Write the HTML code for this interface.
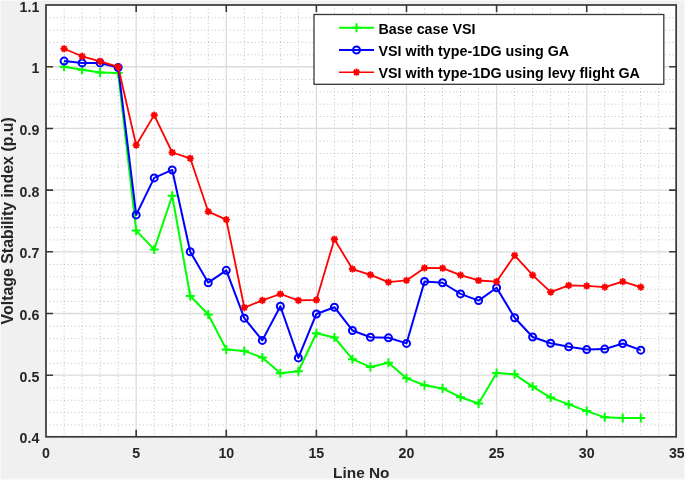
<!DOCTYPE html>
<html><head><meta charset="utf-8"><title>Voltage Stability index</title>
<style>html,body{margin:0;padding:0;background:#f0f0f0;}body{width:685px;height:480px;overflow:hidden;}svg{display:block;}</style>
</head><body>
<svg width="685" height="480" viewBox="0 0 685 480">
<rect x="0" y="0" width="685" height="480" fill="#f0f0f0"/>
<rect x="46.0" y="5.0" width="630.15" height="431.8" fill="#ffffff"/>
<path d="M64.09 5.00V436.80M82.11 5.00V436.80M100.13 5.00V436.80M118.16 5.00V436.80M154.20 5.00V436.80M172.22 5.00V436.80M190.24 5.00V436.80M208.26 5.00V436.80M244.31 5.00V436.80M262.33 5.00V436.80M280.35 5.00V436.80M298.37 5.00V436.80M334.42 5.00V436.80M352.44 5.00V436.80M370.46 5.00V436.80M388.48 5.00V436.80M424.52 5.00V436.80M442.55 5.00V436.80M460.57 5.00V436.80M478.59 5.00V436.80M514.63 5.00V436.80M532.65 5.00V436.80M550.67 5.00V436.80M568.70 5.00V436.80M604.74 5.00V436.80M622.76 5.00V436.80M640.78 5.00V436.80M658.80 5.00V436.80M46.00 424.94H676.15M46.00 412.60H676.15M46.00 400.26H676.15M46.00 387.92H676.15M46.00 363.25H676.15M46.00 350.91H676.15M46.00 338.57H676.15M46.00 326.24H676.15M46.00 301.56H676.15M46.00 289.22H676.15M46.00 276.88H676.15M46.00 264.55H676.15M46.00 239.87H676.15M46.00 227.53H676.15M46.00 215.19H676.15M46.00 202.86H676.15M46.00 178.18H676.15M46.00 165.84H676.15M46.00 153.51H676.15M46.00 141.17H676.15M46.00 116.49H676.15M46.00 104.15H676.15M46.00 91.82H676.15M46.00 79.48H676.15M46.00 54.80H676.15M46.00 42.46H676.15M46.00 30.13H676.15M46.00 17.79H676.15" stroke="#bfbfbf" stroke-width="1" stroke-dasharray="1 2.6" fill="none"/>
<path d="M136.18 5.00V436.80M226.29 5.00V436.80M316.39 5.00V436.80M406.50 5.00V436.80M496.61 5.00V436.80M586.72 5.00V436.80M46.00 375.19H676.15M46.00 313.50H676.15M46.00 251.81H676.15M46.00 190.12H676.15M46.00 128.43H676.15M46.00 66.74H676.15" stroke="#dcdcdc" stroke-width="1.3" fill="none"/>
<polyline points="64.09,66.64 82.11,69.72 100.13,72.50 118.16,72.99 136.18,230.61 154.20,249.41 172.22,195.78 190.24,295.95 208.26,314.57 226.29,349.40 244.31,350.88 262.33,357.60 280.35,373.32 298.37,371.28 316.39,333.25 334.42,337.50 352.44,359.20 370.46,367.09 388.48,362.71 406.50,378.19 424.52,385.21 442.55,388.42 460.57,397.23 478.59,403.52 496.61,373.07 514.63,374.30 532.65,386.57 550.67,397.60 568.70,404.38 586.72,411.10 604.74,417.33 622.76,417.88 640.78,417.88" stroke="#00ff00" stroke-width="2" fill="none" stroke-linejoin="round"/>
<path d="M59.59 66.64h9M64.09 62.14v9M77.61 69.72h9M82.11 65.22v9M95.63 72.50h9M100.13 68.00v9M113.66 72.99h9M118.16 68.49v9M131.68 230.61h9M136.18 226.11v9M149.70 249.41h9M154.20 244.91v9M167.72 195.78h9M172.22 191.28v9M185.74 295.95h9M190.24 291.45v9M203.76 314.57h9M208.26 310.07v9M221.79 349.40h9M226.29 344.90v9M239.81 350.88h9M244.31 346.38v9M257.83 357.60h9M262.33 353.10v9M275.85 373.32h9M280.35 368.82v9M293.87 371.28h9M298.37 366.78v9M311.89 333.25h9M316.39 328.75v9M329.92 337.50h9M334.42 333.00v9M347.94 359.20h9M352.44 354.70v9M365.96 367.09h9M370.46 362.59v9M383.98 362.71h9M388.48 358.21v9M402.00 378.19h9M406.50 373.69v9M420.02 385.21h9M424.52 380.71v9M438.05 388.42h9M442.55 383.92v9M456.07 397.23h9M460.57 392.73v9M474.09 403.52h9M478.59 399.02v9M492.11 373.07h9M496.61 368.57v9M510.13 374.30h9M514.63 369.80v9M528.15 386.57h9M532.65 382.07v9M546.17 397.60h9M550.67 393.10v9M564.20 404.38h9M568.70 399.88v9M582.22 411.10h9M586.72 406.60v9M600.24 417.33h9M604.74 412.83v9M618.26 417.88h9M622.76 413.38v9M636.28 417.88h9M640.78 413.38v9" stroke="#00ff00" stroke-width="2" fill="none"/>
<polyline points="64.09,61.09 82.11,62.94 100.13,62.94 118.16,67.51 136.18,214.89 154.20,177.91 172.22,169.96 190.24,251.76 208.26,282.70 226.29,270.37 244.31,318.15 262.33,340.40 280.35,306.25 298.37,357.91 316.39,313.95 334.42,307.23 352.44,330.47 370.46,337.25 388.48,337.81 406.50,343.42 424.52,281.41 442.55,282.76 460.57,293.92 478.59,300.58 496.61,287.76 514.63,317.78 532.65,337.01 550.67,343.30 568.70,346.81 586.72,349.58 604.74,349.09 622.76,343.54 640.78,350.14" stroke="#0000ff" stroke-width="2" fill="none" stroke-linejoin="round"/>
<circle cx="64.09" cy="61.09" r="3.5" stroke="#0000ff" stroke-width="2" fill="none"/>
<circle cx="82.11" cy="62.94" r="3.5" stroke="#0000ff" stroke-width="2" fill="none"/>
<circle cx="100.13" cy="62.94" r="3.5" stroke="#0000ff" stroke-width="2" fill="none"/>
<circle cx="118.16" cy="67.51" r="3.5" stroke="#0000ff" stroke-width="2" fill="none"/>
<circle cx="136.18" cy="214.89" r="3.5" stroke="#0000ff" stroke-width="2" fill="none"/>
<circle cx="154.20" cy="177.91" r="3.5" stroke="#0000ff" stroke-width="2" fill="none"/>
<circle cx="172.22" cy="169.96" r="3.5" stroke="#0000ff" stroke-width="2" fill="none"/>
<circle cx="190.24" cy="251.76" r="3.5" stroke="#0000ff" stroke-width="2" fill="none"/>
<circle cx="208.26" cy="282.70" r="3.5" stroke="#0000ff" stroke-width="2" fill="none"/>
<circle cx="226.29" cy="270.37" r="3.5" stroke="#0000ff" stroke-width="2" fill="none"/>
<circle cx="244.31" cy="318.15" r="3.5" stroke="#0000ff" stroke-width="2" fill="none"/>
<circle cx="262.33" cy="340.40" r="3.5" stroke="#0000ff" stroke-width="2" fill="none"/>
<circle cx="280.35" cy="306.25" r="3.5" stroke="#0000ff" stroke-width="2" fill="none"/>
<circle cx="298.37" cy="357.91" r="3.5" stroke="#0000ff" stroke-width="2" fill="none"/>
<circle cx="316.39" cy="313.95" r="3.5" stroke="#0000ff" stroke-width="2" fill="none"/>
<circle cx="334.42" cy="307.23" r="3.5" stroke="#0000ff" stroke-width="2" fill="none"/>
<circle cx="352.44" cy="330.47" r="3.5" stroke="#0000ff" stroke-width="2" fill="none"/>
<circle cx="370.46" cy="337.25" r="3.5" stroke="#0000ff" stroke-width="2" fill="none"/>
<circle cx="388.48" cy="337.81" r="3.5" stroke="#0000ff" stroke-width="2" fill="none"/>
<circle cx="406.50" cy="343.42" r="3.5" stroke="#0000ff" stroke-width="2" fill="none"/>
<circle cx="424.52" cy="281.41" r="3.5" stroke="#0000ff" stroke-width="2" fill="none"/>
<circle cx="442.55" cy="282.76" r="3.5" stroke="#0000ff" stroke-width="2" fill="none"/>
<circle cx="460.57" cy="293.92" r="3.5" stroke="#0000ff" stroke-width="2" fill="none"/>
<circle cx="478.59" cy="300.58" r="3.5" stroke="#0000ff" stroke-width="2" fill="none"/>
<circle cx="496.61" cy="287.76" r="3.5" stroke="#0000ff" stroke-width="2" fill="none"/>
<circle cx="514.63" cy="317.78" r="3.5" stroke="#0000ff" stroke-width="2" fill="none"/>
<circle cx="532.65" cy="337.01" r="3.5" stroke="#0000ff" stroke-width="2" fill="none"/>
<circle cx="550.67" cy="343.30" r="3.5" stroke="#0000ff" stroke-width="2" fill="none"/>
<circle cx="568.70" cy="346.81" r="3.5" stroke="#0000ff" stroke-width="2" fill="none"/>
<circle cx="586.72" cy="349.58" r="3.5" stroke="#0000ff" stroke-width="2" fill="none"/>
<circle cx="604.74" cy="349.09" r="3.5" stroke="#0000ff" stroke-width="2" fill="none"/>
<circle cx="622.76" cy="343.54" r="3.5" stroke="#0000ff" stroke-width="2" fill="none"/>
<circle cx="640.78" cy="350.14" r="3.5" stroke="#0000ff" stroke-width="2" fill="none"/>
<polyline points="64.09,48.77 82.11,56.29 100.13,61.28 118.16,66.95 136.18,145.18 154.20,115.16 172.22,152.51 190.24,158.31 208.26,211.69 226.29,219.58 244.31,307.54 262.33,300.39 280.35,293.98 298.37,300.39 316.39,299.96 334.42,239.24 352.44,269.02 370.46,274.81 388.48,282.08 406.50,280.42 424.52,267.91 442.55,268.21 460.57,275.18 478.59,280.48 496.61,281.59 514.63,255.39 532.65,275.18 550.67,292.07 568.70,285.41 586.72,285.97 604.74,287.08 622.76,281.59 640.78,287.08" stroke="#ff0000" stroke-width="1.8" fill="none" stroke-linejoin="round"/>
<path d="M60.49 48.77h7.20M64.09 45.17v7.20M61.55 46.22l5.09 5.09M61.55 51.31l5.09 -5.09M78.51 56.29h7.20M82.11 52.69v7.20M79.57 53.74l5.09 5.09M79.57 58.83l5.09 -5.09M96.53 61.28h7.20M100.13 57.68v7.20M97.59 58.73l5.09 5.09M97.59 63.82l5.09 -5.09M114.56 66.95h7.20M118.16 63.35v7.20M115.61 64.40l5.09 5.09M115.61 69.50l5.09 -5.09M132.58 145.18h7.20M136.18 141.58v7.20M133.63 142.63l5.09 5.09M133.63 147.72l5.09 -5.09M150.60 115.16h7.20M154.20 111.56v7.20M151.65 112.61l5.09 5.09M151.65 117.70l5.09 -5.09M168.62 152.51h7.20M172.22 148.91v7.20M169.68 149.97l5.09 5.09M169.68 155.06l5.09 -5.09M186.64 158.31h7.20M190.24 154.71v7.20M187.70 155.76l5.09 5.09M187.70 160.85l5.09 -5.09M204.66 211.69h7.20M208.26 208.09v7.20M205.72 209.14l5.09 5.09M205.72 214.23l5.09 -5.09M222.69 219.58h7.20M226.29 215.98v7.20M223.74 217.03l5.09 5.09M223.74 222.12l5.09 -5.09M240.71 307.54h7.20M244.31 303.94v7.20M241.76 305.00l5.09 5.09M241.76 310.09l5.09 -5.09M258.73 300.39h7.20M262.33 296.79v7.20M259.78 297.85l5.09 5.09M259.78 302.94l5.09 -5.09M276.75 293.98h7.20M280.35 290.38v7.20M277.81 291.44l5.09 5.09M277.81 296.53l5.09 -5.09M294.77 300.39h7.20M298.37 296.79v7.20M295.83 297.85l5.09 5.09M295.83 302.94l5.09 -5.09M312.79 299.96h7.20M316.39 296.36v7.20M313.85 297.42l5.09 5.09M313.85 302.51l5.09 -5.09M330.82 239.24h7.20M334.42 235.64v7.20M331.87 236.70l5.09 5.09M331.87 241.79l5.09 -5.09M348.84 269.02h7.20M352.44 265.42v7.20M349.89 266.47l5.09 5.09M349.89 271.56l5.09 -5.09M366.86 274.81h7.20M370.46 271.21v7.20M367.91 272.26l5.09 5.09M367.91 277.36l5.09 -5.09M384.88 282.08h7.20M388.48 278.48v7.20M385.93 279.54l5.09 5.09M385.93 284.63l5.09 -5.09M402.90 280.42h7.20M406.50 276.82v7.20M403.96 277.87l5.09 5.09M403.96 282.97l5.09 -5.09M420.92 267.91h7.20M424.52 264.31v7.20M421.98 265.36l5.09 5.09M421.98 270.45l5.09 -5.09M438.95 268.21h7.20M442.55 264.61v7.20M440.00 265.67l5.09 5.09M440.00 270.76l5.09 -5.09M456.97 275.18h7.20M460.57 271.58v7.20M458.02 272.63l5.09 5.09M458.02 277.73l5.09 -5.09M474.99 280.48h7.20M478.59 276.88v7.20M476.04 277.94l5.09 5.09M476.04 283.03l5.09 -5.09M493.01 281.59h7.20M496.61 277.99v7.20M494.06 279.05l5.09 5.09M494.06 284.14l5.09 -5.09M511.03 255.39h7.20M514.63 251.79v7.20M512.09 252.85l5.09 5.09M512.09 257.94l5.09 -5.09M529.05 275.18h7.20M532.65 271.58v7.20M530.11 272.63l5.09 5.09M530.11 277.73l5.09 -5.09M547.07 292.07h7.20M550.67 288.47v7.20M548.13 289.52l5.09 5.09M548.13 294.62l5.09 -5.09M565.10 285.41h7.20M568.70 281.81v7.20M566.15 282.87l5.09 5.09M566.15 287.96l5.09 -5.09M583.12 285.97h7.20M586.72 282.37v7.20M584.17 283.42l5.09 5.09M584.17 288.51l5.09 -5.09M601.14 287.08h7.20M604.74 283.48v7.20M602.19 284.53l5.09 5.09M602.19 289.62l5.09 -5.09M619.16 281.59h7.20M622.76 277.99v7.20M620.22 279.05l5.09 5.09M620.22 284.14l5.09 -5.09M637.18 287.08h7.20M640.78 283.48v7.20M638.24 284.53l5.09 5.09M638.24 289.62l5.09 -5.09" stroke="#ff0000" stroke-width="1.8" fill="none"/>
<path d="M136.18 436.80v-7M136.18 5.00v7M226.29 436.80v-7M226.29 5.00v7M316.39 436.80v-7M316.39 5.00v7M406.50 436.80v-7M406.50 5.00v7M496.61 436.80v-7M496.61 5.00v7M586.72 436.80v-7M586.72 5.00v7M46.00 375.19h7M676.15 375.19h-7M46.00 313.50h7M676.15 313.50h-7M46.00 251.81h7M676.15 251.81h-7M46.00 190.12h7M676.15 190.12h-7M46.00 128.43h7M676.15 128.43h-7M46.00 66.74h7M676.15 66.74h-7" stroke="#383838" stroke-width="1.6" fill="none"/>
<rect x="46.0" y="5.0" width="630.15" height="431.8" fill="none" stroke="#383838" stroke-width="1.7"/>
<rect x="314" y="14.5" width="349.79999999999995" height="69.8" fill="#ffffff" stroke="#383838" stroke-width="1.3"/>
<path d="M339 27.7H374" stroke="#00ff00" stroke-width="2"/>
<path d="M352.0 27.7h9M356.5 23.2v9" stroke="#00ff00" stroke-width="2"/>
<path d="M339 50.0H374" stroke="#0000ff" stroke-width="2"/>
<circle cx="356.5" cy="50.0" r="3.5" stroke="#0000ff" stroke-width="2" fill="none"/>
<path d="M339 72.2H374" stroke="#ff0000" stroke-width="1.6"/>
<path d="M352.90 72.20h7.20M356.50 68.60v7.20M353.95 69.65l5.09 5.09M353.95 74.75l5.09 -5.09" stroke="#ff0000" stroke-width="1.8"/>
<text x="378.5" y="34.40" style='font-family:"Liberation Sans", Arial, Helvetica, sans-serif;font-weight:bold;font-size:14.3px' fill="#000">Base case VSI</text>
<text x="378.5" y="55.90" style='font-family:"Liberation Sans", Arial, Helvetica, sans-serif;font-weight:bold;font-size:14.3px' fill="#000">VSI with type-1DG using GA</text>
<text x="378.5" y="77.60" style='font-family:"Liberation Sans", Arial, Helvetica, sans-serif;font-weight:bold;font-size:14.3px' fill="#000">VSI with type-1DG using levy flight GA</text>
<text x="46.07" y="457.6" text-anchor="middle" style='font-family:"Liberation Sans", Arial, Helvetica, sans-serif;font-weight:bold;font-size:14.2px' fill="#262626">0</text>
<text x="136.18" y="457.6" text-anchor="middle" style='font-family:"Liberation Sans", Arial, Helvetica, sans-serif;font-weight:bold;font-size:14.2px' fill="#262626">5</text>
<text x="226.29" y="457.6" text-anchor="middle" style='font-family:"Liberation Sans", Arial, Helvetica, sans-serif;font-weight:bold;font-size:14.2px' fill="#262626">10</text>
<text x="316.39" y="457.6" text-anchor="middle" style='font-family:"Liberation Sans", Arial, Helvetica, sans-serif;font-weight:bold;font-size:14.2px' fill="#262626">15</text>
<text x="406.50" y="457.6" text-anchor="middle" style='font-family:"Liberation Sans", Arial, Helvetica, sans-serif;font-weight:bold;font-size:14.2px' fill="#262626">20</text>
<text x="496.61" y="457.6" text-anchor="middle" style='font-family:"Liberation Sans", Arial, Helvetica, sans-serif;font-weight:bold;font-size:14.2px' fill="#262626">25</text>
<text x="586.72" y="457.6" text-anchor="middle" style='font-family:"Liberation Sans", Arial, Helvetica, sans-serif;font-weight:bold;font-size:14.2px' fill="#262626">30</text>
<text x="676.83" y="457.6" text-anchor="middle" style='font-family:"Liberation Sans", Arial, Helvetica, sans-serif;font-weight:bold;font-size:14.2px' fill="#262626">35</text>
<text x="39.3" y="443.48" text-anchor="end" style='font-family:"Liberation Sans", Arial, Helvetica, sans-serif;font-weight:bold;font-size:14.2px' fill="#262626">0.4</text>
<text x="39.3" y="381.79" text-anchor="end" style='font-family:"Liberation Sans", Arial, Helvetica, sans-serif;font-weight:bold;font-size:14.2px' fill="#262626">0.5</text>
<text x="39.3" y="320.10" text-anchor="end" style='font-family:"Liberation Sans", Arial, Helvetica, sans-serif;font-weight:bold;font-size:14.2px' fill="#262626">0.6</text>
<text x="39.3" y="258.41" text-anchor="end" style='font-family:"Liberation Sans", Arial, Helvetica, sans-serif;font-weight:bold;font-size:14.2px' fill="#262626">0.7</text>
<text x="39.3" y="196.72" text-anchor="end" style='font-family:"Liberation Sans", Arial, Helvetica, sans-serif;font-weight:bold;font-size:14.2px' fill="#262626">0.8</text>
<text x="39.3" y="135.03" text-anchor="end" style='font-family:"Liberation Sans", Arial, Helvetica, sans-serif;font-weight:bold;font-size:14.2px' fill="#262626">0.9</text>
<text x="39.3" y="73.34" text-anchor="end" style='font-family:"Liberation Sans", Arial, Helvetica, sans-serif;font-weight:bold;font-size:14.2px' fill="#262626">1</text>
<text x="39.3" y="11.65" text-anchor="end" style='font-family:"Liberation Sans", Arial, Helvetica, sans-serif;font-weight:bold;font-size:14.2px' fill="#262626">1.1</text>
<text x="361.3" y="477.6" text-anchor="middle" style='font-family:"Liberation Sans", Arial, Helvetica, sans-serif;font-weight:bold;font-size:15.4px' fill="#262626">Line No</text>
<text transform="translate(12.7 220.8) rotate(-90)" x="0" y="0" text-anchor="middle" style='font-family:"Liberation Sans", Arial, Helvetica, sans-serif;font-weight:bold;font-size:15.9px' fill="#262626">Voltage Stability index (p.u)</text>
<path d="M0 0.5H685M0.5 0V480M684.5 0V480M0 479.25H685" stroke="#f8f8f8" stroke-width="1" fill="none"/>
<path d="M0 479.25H685" stroke="#f8f8f8" stroke-width="1.5" fill="none"/>
</svg>
</body></html>
